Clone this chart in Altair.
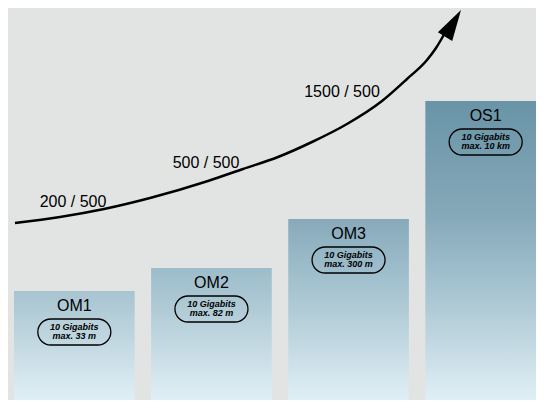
import altair as alt
import pandas as pd

# ---- data ----
categories = ["OM1", "OM2", "OM3", "OS1"]
heights = [117, 140, 189, 307]
speeds = ["10 Gigabits", "10 Gigabits", "10 Gigabits", "10 Gigabits"]
reaches = ["max. 33 m", "max. 82 m", "max. 300 m", "max. 10 km"]

arrow_x = [15, 60, 104, 150, 208, 243, 278, 312, 347, 382, 407, 427, 436, 446]
arrow_y = [185, 191, 199, 210, 227, 239, 251, 266, 284, 307, 329, 348, 360, 377]
tip_x = [461]
tip_y = [398]

ratio_labels = ["200 / 500", "500 / 500", "1500 / 500"]
ratio_x = [73, 206, 342]
ratio_y = [201, 240, 311.5]

# ---- styles ----
BG = "#e2e4e3"
GRAD_STOPS = [(0.0, "#e4f2f8"), (0.38, "#a7c4d0"), (0.46, "#9cbccb"), (0.62, "#86a9b9"), (1.0, "#6994a7")]
FONT = "Liberation Sans"

df = pd.DataFrame({
    "cat": categories,
    "h": heights,
    "spec": [s + "\n" + r for s, r in zip(speeds, reaches)],
})
df_curve = pd.DataFrame({"ax": arrow_x, "ay": arrow_y, "i": list(range(len(arrow_x)))})
df_tip = pd.DataFrame({"ax": tip_x, "ay": tip_y})
df_lab = pd.DataFrame({"ax": ratio_x, "ay": ratio_y, "t": ratio_labels})

yscale = alt.Scale(domain=[8, 400], nice=False, zero=False)
xband = alt.Scale(domain=categories, range=[6, 538], paddingInner=0.12, paddingOuter=0)
xq = alt.Scale(domain=[8, 536], nice=False, zero=False)

base = alt.Chart(df).encode(
    x=alt.X("cat:N", scale=xband, axis=None, sort=categories),
    y=alt.Y("h:Q", scale=yscale, axis=None),
)

hmax = max(heights)


def grad(h):
    # one shared vertical gradient: bottom of all bars -> top of tallest bar
    return alt.Gradient(
        gradient="linear",
        stops=[alt.GradientStop(color=c, offset=o) for o, c in GRAD_STOPS],
        x1=0, x2=0, y1=1, y2=1 - hmax / h,
    )


bar_layers = [
    base.transform_filter(alt.datum.cat == c).mark_bar(color=grad(h), cornerRadius=0)
    .encode(y2=alt.datum(0))
    for c, h in zip(categories, heights)
]

names = base.mark_text(font=FONT, fontSize=16, dy=20, baseline="alphabetic", color="black").encode(
    text="cat:N"
)

pills = base.mark_bar(
    width=73, cornerRadius=13, fillOpacity=0, stroke="black", strokeWidth=1.3,
    yOffset=28, y2Offset=54,
).encode(y2=alt.Y2("h:Q"))

pill_text = base.mark_text(
    font=FONT, fontSize=9, fontStyle="italic", fontWeight="bold", lineBreak="\n",
    lineHeight=9.5, dy=38.5, baseline="alphabetic", color="black",
).encode(text="spec:N")

bars_layer = alt.layer(*bar_layers, names, pills, pill_text)

curve = alt.Chart(df_curve).mark_line(color="black", strokeWidth=2.5, interpolate="monotone").encode(
    x=alt.X("ax:Q", scale=xq, axis=None),
    y=alt.Y("ay:Q", scale=yscale, axis=None),
    order=alt.Order("i:Q"),
)

head = alt.Chart(df_tip).mark_point(
    shape="M0,0L-0.27,1L0.27,1Z", size=3844, angle=31, filled=True, color="black",
    opacity=1, strokeWidth=0,
).encode(
    x=alt.X("ax:Q", scale=xq, axis=None),
    y=alt.Y("ay:Q", scale=yscale, axis=None),
)

ratio = alt.Chart(df_lab).mark_text(font=FONT, fontSize=16, baseline="alphabetic", align="center", color="black").encode(
    x=alt.X("ax:Q", scale=xq, axis=None),
    y=alt.Y("ay:Q", scale=yscale, axis=None),
    text="t:N",
)

curve_layer = alt.layer(curve, head, ratio)

chart = alt.layer(bars_layer, curve_layer).resolve_scale(x="independent").properties(
    width=528, height=392, background=BG, padding=0, autosize="none"
).configure_view(strokeWidth=0)

chart.save("out.html", embed_options={"renderer": "svg", "actions": False})
